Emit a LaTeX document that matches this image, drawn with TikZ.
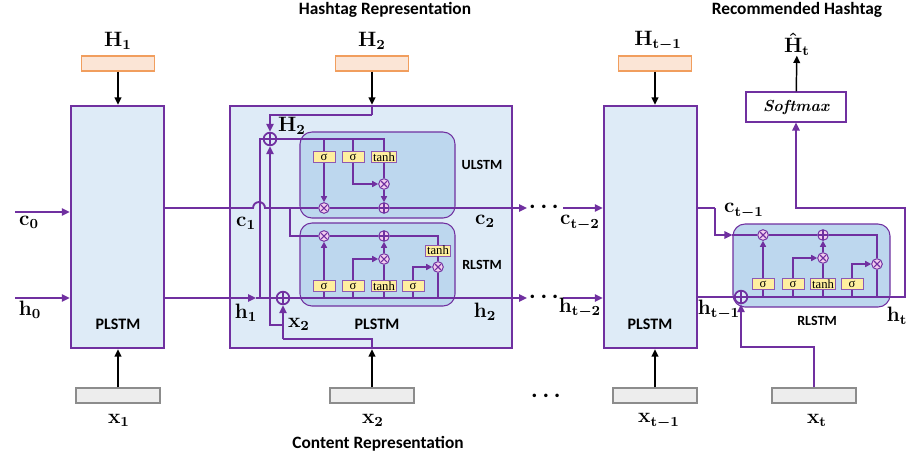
\documentclass[tikz,border=0pt]{standalone}
\usepackage{fontspec}
\usepackage{amsmath}
\usepackage{tikz}
\usetikzlibrary{arrows.meta,positioning}
\newfontfamily\calibri{Carlito}
\newfontfamily\gatefont{Liberation Serif}
\definecolor{lstmpurple}{HTML}{7030A0}
\definecolor{cellblue}{HTML}{DEEBF7}
\definecolor{gateblue}{HTML}{BDD7EE}
\definecolor{hashfill}{HTML}{FBE5D6}
\definecolor{hashdraw}{HTML}{F19E5E}
\definecolor{inputfill}{HTML}{EDEDED}
\definecolor{inputdraw}{HTML}{8C8C8C}
\definecolor{gatefill}{HTML}{FFEF9F}
\definecolor{opfill}{HTML}{F2CDEE}

\begin{document}
\begin{tikzpicture}[
  x=0.75pt, y=-0.75pt,
  cellbox/.style={draw=lstmpurple, line width=1.8pt, fill=cellblue,
    minimum width=69.75pt, minimum height=181.5pt},
  bigbox/.style={cellbox, minimum width=211.5pt},
  hashbox/.style={draw=hashdraw, line width=1pt, fill=hashfill,
    minimum width=54.75pt, minimum height=11.25pt},
  inbox/.style={draw=inputdraw, line width=1pt, fill=inputfill,
    minimum width=63pt, minimum height=11.25pt},
  gatearea/.style={draw=lstmpurple, line width=0.8pt, fill=gateblue,
    rounded corners=9pt, minimum width=116.25pt, minimum height=62.25pt},
  gate/.style={draw=lstmpurple!80, line width=0.6pt, fill=gatefill, inner sep=0pt,
    minimum width=16.5pt, minimum height=8.25pt, font=\gatefont\fontsize{9.5}{9.5}\selectfont},
  tanhgate/.style={gate, minimum width=18.75pt},
  opbase/.style={circle, draw=lstmpurple, line width=0.7pt, fill=opfill,
    inner sep=0pt, minimum size=8pt},
  mult/.style={opbase, path picture={
    \draw[lstmpurple, line width=0.8pt]
      ([shift={(-2.2pt,-2.2pt)}]path picture bounding box.center) -- ([shift={(2.2pt,2.2pt)}]path picture bounding box.center)
      ([shift={(-2.2pt,2.2pt)}]path picture bounding box.center) -- ([shift={(2.2pt,-2.2pt)}]path picture bounding box.center);}},
  add/.style={opbase, path picture={
    \draw[lstmpurple, line width=0.8pt]
      (path picture bounding box.north) -- (path picture bounding box.south)
      (path picture bounding box.west) -- (path picture bounding box.east);}},
  mixop/.style={circle, draw=lstmpurple, line width=1.3pt, fill=cellblue,
    inner sep=0pt, minimum size=9.5pt, path picture={
    \draw[lstmpurple, line width=1.3pt]
      (path picture bounding box.north) -- (path picture bounding box.south)
      (path picture bounding box.west) -- (path picture bounding box.east);}},
  pline/.style={draw=lstmpurple, line width=1.4pt},
  parr/.style={pline, -{Triangle[length=6pt,width=5.5pt]}},
  sline/.style={draw=lstmpurple, line width=1.1pt},
  sarr/.style={sline, -{Triangle[length=4.5pt,width=4.5pt]}},
  blk/.style={line width=1.1pt, -{Triangle[length=5.5pt,width=5pt]}},
  lbl/.style={font=\fontsize{12}{14}\selectfont\boldmath, inner sep=1pt, scale=1.3},
  cname/.style={font=\calibri\bfseries\fontsize{12}{13}\selectfont},
  gname/.style={font=\calibri\bfseries\fontsize{10.5}{12}\selectfont},
  title/.style={font=\calibri\bfseries\fontsize{13}{14}\selectfont},
  dots/.style={font=\fontsize{12}{12}\selectfont\boldmath, scale=1.4},
]
\useasboundingbox (0,0) rectangle (909,462);

% Titles
\node[title] (hashtitle) at (385,10) {Hashtag Representation};
\node[title] (rectitle) at (797,10) {Recommended Hashtag};
\node[title] (contitle) at (378,444) {Content Representation};

% Cells
\node[cellbox] (P1) at (117.5,227) {};
\node[bigbox] (big) at (371,227) {};
\node[cellbox] (P3) at (650.5,227) {};
\node[cname] (p1name) at (118,324) {PLSTM};
\node[cname] (p2name) at (377,324) {PLSTM};
\node[cname] (p3name) at (650,324) {PLSTM};

% Hashtag and content inputs
\node[hashbox] (H1box) at (118,63.5) {};
\node[hashbox] (H2box) at (372,63.5) {};
\node[hashbox] (H3box) at (655,63.5) {};
\node[inbox] (X1) at (118,395.5) {};
\node[inbox] (X2) at (372,395.5) {};
\node[inbox] (X3) at (655,395.5) {};
\node[inbox] (Xt) at (814,395.5) {};
\node[lbl] (H1) at (118,41) {$\mathbf{H}_{\mathbf{1}}$};
\node[lbl] (H2) at (372,41) {$\mathbf{H}_{\mathbf{2}}$};
\node[lbl] (H3) at (658,41) {$\mathbf{H}_{\mathbf{t-1}}$};
\node[lbl, inner sep=0pt] (Hhat) at (797,44) {$\hat{\mathbf{H}}_{\mathbf{t}}$};
\node[lbl] (x1) at (119,420) {$\mathbf{x}_{\mathbf{1}}$};
\node[lbl] (x2) at (373,420) {$\mathbf{x}_{\mathbf{2}}$};
\node[lbl] (x3) at (659,421) {$\mathbf{x}_{\mathbf{t-1}}$};
\node[lbl] (xt) at (817,420) {$\mathbf{x}_{\mathbf{t}}$};

% Softmax
\node[draw=lstmpurple, line width=0.8pt, fill=white, minimum width=75pt, minimum height=22.5pt,
  font=\fontsize{12}{13}\selectfont\bfseries\itshape] (sm) at (796,107) {Softmax};

% Gate areas
\node[gatearea, minimum height=64.5pt] (ulstm) at (377.5,175) {};
\node[gatearea] (rlstm) at (377.5,264.5) {};
\node[gatearea, minimum width=117.75pt] (tlstm) at (811.5,265.5) {};
\node[gname] (uname) at (482,165) {ULSTM};
\node[gname] (rname) at (482,265) {RLSTM};
\node[gname] (tname) at (817,321) {RLSTM};

% Mixing nodes
\node[mixop] (mixH) at (270,139) {};
\node[mixop] (mixX) at (283,298) {};
\node[mixop] (mixT) at (741,297) {};

% ULSTM
\node[gate] (uS1) at (324,157) {σ};
\node[gate] (uS2) at (353,157) {σ};
\node[tanhgate] (uT) at (384,157) {tanh};
\node[mult] (uM1) at (324,208) {};
\node[mult] (uM2) at (384,184) {};
\node[add] (uA) at (384,208) {};

% RLSTM (inside PLSTM)
\node[gate] (rS1) at (324,286) {σ};
\node[gate] (rS2) at (353,286) {σ};
\node[tanhgate] (rT1) at (384,286) {tanh};
\node[gate] (rS3) at (413,286) {σ};
\node[tanhgate] (rT2) at (438,250.5) {tanh};
\node[mult] (rM1) at (324,236) {};
\node[add] (rA) at (384,236) {};
\node[mult] (rM2) at (384,259) {};
\node[mult] (rM3) at (438,267) {};

% RLSTM (last step)
\node[gate] (tS1) at (763,284) {σ};
\node[gate] (tS2) at (793,284) {σ};
\node[tanhgate] (tT) at (823,284) {tanh};
\node[gate] (tS3) at (852,284) {σ};
\node[mult] (tM1) at (763,235) {};
\node[add] (tA) at (823,235) {};
\node[mult] (tM2) at (823,258) {};
\node[mult] (tM3) at (877,264) {};

% Turning points
\coordinate (hop) at (259,208);
\coordinate (cb) at (290,208);
\coordinate (cout) at (527,208);
\coordinate (hin) at (256,298);
\coordinate (hv) at (260,298);
\coordinate (hout) at (527,298);
\coordinate (htop) at (372,115);
\coordinate (xj) at (283,339);
\coordinate (xb) at (283,325);
\coordinate (c0) at (15,212);
\coordinate (h0) at (15,298);
\coordinate (cin3) at (563,208);
\coordinate (hin3) at (563,298);
\coordinate (cb2) at (715,208);
\coordinate (hr) at (905,297);
\coordinate (hturn) at (796,208);
\coordinate (xtturn) at (741,347);

% Black input arrows
\draw[blk] (H1box) -- (H1box |- P1.north);
\draw[blk] (H2box) -- (H2box |- big.north);
\draw[blk] (H3box) -- (H3box |- P3.north);
\draw[blk] (X1.north) -- (X1 |- P1.south);
\draw[blk] (X2.north) -- (X2 |- big.south);
\draw[blk] (X3.north) -- (X3 |- P3.south);
\draw[blk] (sm) -- (Hhat);

% Initial states
\draw[parr] (c0) -- (c0 -| P1.west);
\draw[parr] (h0) -- (h0 -| P1.west);
\node[lbl] (c0lbl) at (29,222) {$\mathbf{c}_{\mathbf{0}}$};
\node[lbl] (h0lbl) at (30,310) {$\mathbf{h}_{\mathbf{0}}$};

% Cell state through step 2
\draw[pline] (P1.east |- uM1) -- ([xshift=-4.5pt]hop) arc[start angle=180, end angle=0, radius=4.5pt] -- (uM1);
\draw[pline] (uM1) -- (uA);
\draw[parr] (uA) -- (cout);
% Hidden state through step 2
\draw[parr] (P1.east |- mixX) -- (hin);
\draw[pline] (hin) -- (mixX);
\draw[parr] (mixX) -- (hout);
\draw[pline] (hv) |- (mixH);
% H2 and x2 into the mixing nodes
\draw[pline] (H2box |- big.north) -- (htop);
\draw[parr] (htop) -| (mixH);
\draw[pline] (X2 |- big.south) |- (xj);
\draw[parr] (xj) -- (mixX);
\draw[parr] (xb) -| (mixH);

% ULSTM wiring
\draw[sline] (mixH) -| (uT);
\draw[sline] (uS1 |- mixH) -- (uS1);
\draw[sline] (uS2 |- mixH) -- (uS2);
\draw[sarr] (uS1) -- (uM1);
\draw[sarr] (uS2) |- (uM2);
\draw[sline] (uT) -- (uM2);
\draw[sarr] (uM2) -- (uA);

% RLSTM wiring
\draw[sline] (cb) |- (rM1);
\draw[sline] (rM1) -- (rA);
\draw[sline] (rA) -| (rT2);
\draw[sline] (rT2) -- (rM3);
\draw[sline] (rM3) -- (rM3 |- mixX);
\draw[sarr] (rS1) -- (rM1);
\draw[sarr] (rS2) |- (rM2);
\draw[sline] (rT1) -- (rM2);
\draw[sarr] (rM2) -- (rA);
\draw[sarr] (rS3) |- (rM3);
\draw[sline] (rS1) -- (rS1 |- mixX);
\draw[sline] (rS2) -- (rS2 |- mixX);
\draw[sline] (rT1) -- (rT1 |- mixX);
\draw[sline] (rS3) -- (rS3 |- mixX);

% Labels of step 2
\node[lbl] (c1lbl) at (246,223) {$\mathbf{c}_{\mathbf{1}}$};
\node[lbl] (h1lbl) at (246,313) {$\mathbf{h}_{\mathbf{1}}$};
\node[lbl] (x2lbl) at (299,324) {$\mathbf{x}_{\mathbf{2}}$};
\node[lbl] (H2lbl) at (292,126) {$\mathbf{H}_{\mathbf{2}}$};
\node[lbl] (c2lbl) at (485,221) {$\mathbf{c}_{\mathbf{2}}$};
\node[lbl] (h2lbl) at (485,312) {$\mathbf{h}_{\mathbf{2}}$};

% Skipped steps
\node[dots] (cdots) at (546,207) {$\cdots$};
\node[dots] (hdots) at (546,297) {$\cdots$};
\node[dots] (xdots) at (548,396) {$\cdots$};
\draw[parr] (cin3) -- (cin3 -| P3.west);
\draw[parr] (hin3) -- (hin3 -| P3.west);
\node[lbl] (ct2lbl) at (580,223) {$\mathbf{c}_{\mathbf{t-2}}$};
\node[lbl] (ht2lbl) at (580,308) {$\mathbf{h}_{\mathbf{t-2}}$};

% Last step
\draw[pline] (P3.east |- cb2) -- (cb2);
\draw[parr] (cb2) |- (tlstm.west |- tM1);
\draw[pline] (tlstm.west |- tM1) -- (tM1);
\draw[sline] (tM1) -- (tA);
\draw[sline] (tA) -| (tM3);
\draw[sline] (tM3) -- (tM3 |- mixT);
\draw[sarr] (tS1) -- (tM1);
\draw[sarr] (tS2) |- (tM2);
\draw[sline] (tT) -- (tM2);
\draw[sarr] (tM2) -- (tA);
\draw[sarr] (tS3) |- (tM3);
\draw[sline] (tS1) -- (tS1 |- mixT);
\draw[sline] (tS2) -- (tS2 |- mixT);
\draw[sline] (tT) -- (tT |- mixT);
\draw[sline] (tS3) -- (tS3 |- mixT);
\draw[pline] (P3.east |- mixT) -- (mixT);
\draw[parr] (mixT) -- (hr) |- (hturn) -- (sm);
\draw[parr] (Xt.north) |- (xtturn) -- (mixT);
\node[lbl] (ct1lbl) at (744,211) {$\mathbf{c}_{\mathbf{t-1}}$};
\node[lbl] (ht1lbl) at (719,310) {$\mathbf{h}_{\mathbf{t-1}}$};
\node[lbl] (htlbl) at (897,316) {$\mathbf{h}_{\mathbf{t}}$};
\end{tikzpicture}
\end{document}
